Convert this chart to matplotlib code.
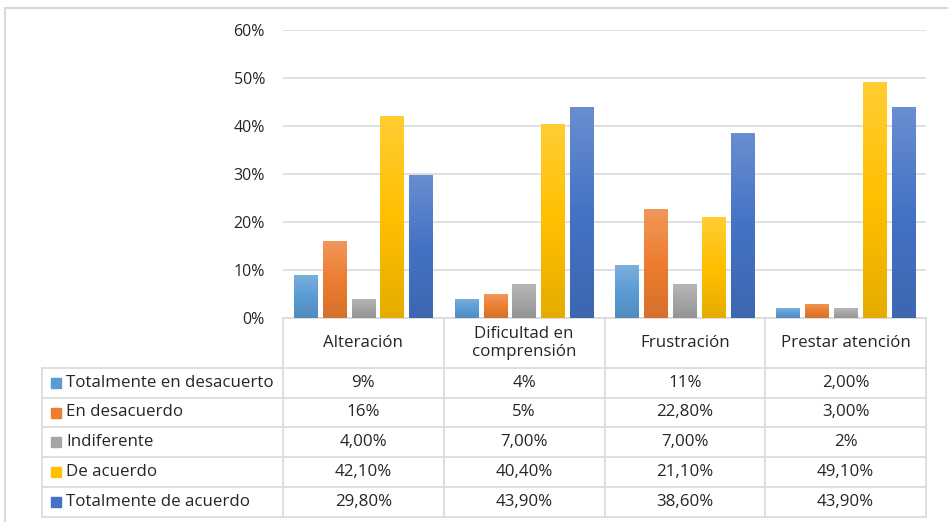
import matplotlib

matplotlib.use("Agg")
import matplotlib.pyplot as plt
import numpy as np
from matplotlib import transforms
from matplotlib.colors import LinearSegmentedColormap, to_rgb
from matplotlib.lines import Line2D

# ---------------------------------------------------------------- data
categories = ["Alteración", "Dificultad en\ncomprensión", "Frustración", "Prestar atención"]
series = ["Totalmente en desacuerto", "En desacuerdo", "Indiferente",
          "De acuerdo", "Totalmente de acuerdo"]
tot_desacuerdo = [9.0, 4.0, 11.0, 2.0]
en_desacuerdo = [16.0, 5.0, 22.8, 3.0]
indiferente = [4.0, 7.0, 7.0, 2.0]
de_acuerdo = [42.1, 40.4, 21.1, 49.1]
tot_acuerdo = [29.8, 43.9, 38.6, 43.9]
values = [tot_desacuerdo, en_desacuerdo, indiferente, de_acuerdo, tot_acuerdo]

# table cells exactly as printed in the source
lbl_tot_desacuerdo = ["9%", "4%", "11%", "2,00%"]
lbl_en_desacuerdo = ["16%", "5%", "22,80%", "3,00%"]
lbl_indiferente = ["4,00%", "7,00%", "7,00%", "2%"]
lbl_de_acuerdo = ["42,10%", "40,40%", "21,10%", "49,10%"]
lbl_tot_acuerdo = ["29,80%", "43,90%", "38,60%", "43,90%"]
cell_text = [lbl_tot_desacuerdo, lbl_en_desacuerdo, lbl_indiferente,
             lbl_de_acuerdo, lbl_tot_acuerdo]

yticks = [0, 10, 20, 30, 40, 50, 60]

# ---------------------------------------------------------------- style
COLORS = ["#5B9BD5", "#ED7D31", "#A5A5A5", "#FFC000", "#4472C4"]
GRID = "#D9D9D9"
INK = "#262626"
W, H = 948, 522

plt.rcParams["font.family"] = ["Open Sans", "DejaVu Sans"]


def shade(c, f):
    c = np.array(to_rgb(c))
    return c + (1 - c) * f if f >= 0 else c * (1 + f)


fig = plt.figure(figsize=(W / 100, H / 100), dpi=100)
# plot area in pixels: x 283..926, y 30..318
ax = fig.add_axes([283 / W, (H - 318) / H, (926 - 283) / W, (318 - 30) / H])

pitch, bw = 0.1794, 0.146
x = np.arange(len(categories))
grad = np.linspace(0, 1, 64)[:, None]
for i, (vals, col) in enumerate(zip(values, COLORS)):
    bars = ax.bar(x + (i - 2) * pitch, vals, width=bw, color=col,
                  edgecolor="none", zorder=3)
    cmap = LinearSegmentedColormap.from_list(
        "g", [shade(col, -0.10), col, shade(col, 0.20)])
    for b in bars:
        x0, y0 = b.get_xy()
        im = ax.imshow(grad, cmap=cmap, origin="lower", aspect="auto",
                       extent=[x0, x0 + b.get_width(), y0, y0 + b.get_height()],
                       zorder=3.5)
        im.set_clip_path(b)

ax.set_xlim(-0.5, len(categories) - 0.5)
ax.set_ylim(0, 60)
ax.set_yticks(yticks)
ax.set_yticklabels([f"{t}%" for t in yticks], fontsize=11.5, color=INK)
ax.set_xticks([])
ax.tick_params(axis="y", length=0, pad=13)
ax.grid(True, axis="y", color=GRID, lw=1.2)
ax.set_axisbelow(True)
for s in ax.spines.values():
    s.set_visible(False)

# ---------------------------------------------------------------- data table
trans = transforms.blended_transform_factory(ax.transData, ax.transAxes)


def yax(py):
    return (318 - py) / 288


rows_px = [368, 398, 427, 457, 487, 517]
x_left = -2.0
x_right = len(categories) - 0.5
kw = dict(color=GRID, lw=1.2, transform=trans, clip_on=False)

ax.add_line(Line2D([-0.5, x_right], [0, 0], **kw))
for py in rows_px:
    ax.add_line(Line2D([x_left, x_right], [yax(py)] * 2, **kw))
for xv in np.arange(-0.5, len(categories)):
    ax.add_line(Line2D([xv, xv], [0, yax(rows_px[-1])], **kw))
ax.add_line(Line2D([x_left, x_left], [yax(rows_px[0]), yax(rows_px[-1])], **kw))

FS = 12.2
for j, cat in enumerate(categories):
    ax.text(j, yax((318 + rows_px[0]) / 2), cat, transform=trans,
            ha="center", va="center", fontsize=FS, color=INK,
            linespacing=1.15, clip_on=False)

for i, (name, col) in enumerate(zip(series, COLORS)):
    ym = yax((rows_px[i] + rows_px[i + 1]) / 2)
    ax.plot([-1.913], [ym], marker="s", ms=7.3, color=col, transform=trans,
            clip_on=False, ls="none")
    ax.text(-1.85, ym, name, transform=trans, ha="left", va="center",
            fontsize=FS, color=INK, clip_on=False)
    for j, txt in enumerate(cell_text[i]):
        ax.text(j, ym, txt, transform=trans, ha="center", va="center",
                fontsize=FS, color=INK, clip_on=False)

# chart frame (top and left edges)
fig.add_artist(Line2D([5 / W, 1], [1 - 8 / H] * 2, color=GRID, lw=1.5))
fig.add_artist(Line2D([5 / W] * 2, [0, 1 - 8 / H], color=GRID, lw=1.5))

fig.savefig("out.png", dpi=100, facecolor="white")
